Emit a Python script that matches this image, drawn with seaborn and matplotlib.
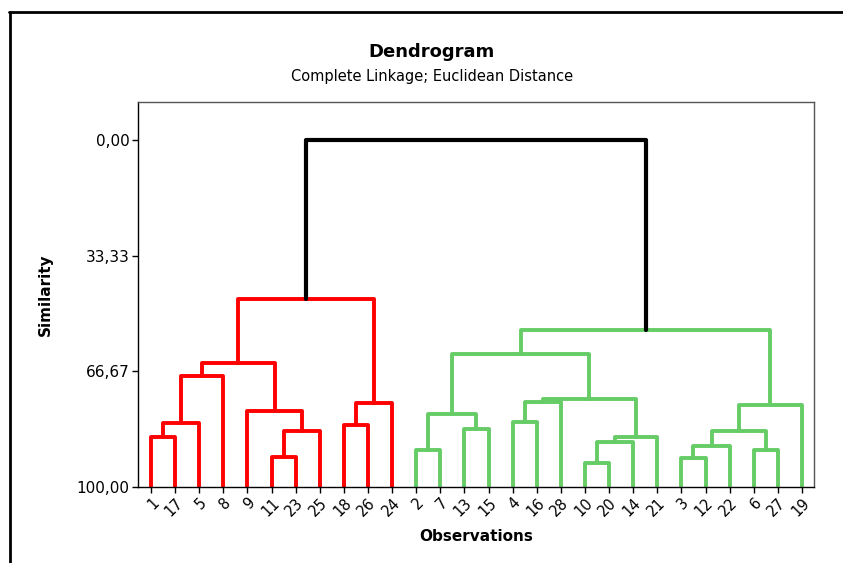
import matplotlib
matplotlib.use("Agg")
import matplotlib.pyplot as plt
from matplotlib.lines import Line2D
import seaborn as sns
import pandas as pd

# ---------------- data ----------------
leaf_order = [1, 17, 5, 8, 9, 11, 23, 25, 18, 26, 24,
              2, 7, 13, 15, 4, 16, 28, 10, 20, 14, 21, 3, 12, 22, 6, 27, 19]
# merges: left child, right child, similarity (ints = observation, "mK" = K-th merge)
merge_left = [1, "m0", "m1", 11, "m3", 9, "m2", 18, "m7", "m6",
              2, 13, "m10", 4, "m13", 10, "m15", "m16", "m14", "m12",
              3, "m20", 6, "m21", "m23", "m19", "m9"]
merge_right = [17, 5, 8, 23, 25, "m4", "m5", 26, 24, "m8",
               7, 15, "m11", 16, 28, 20, 14, 21, "m17", "m18",
               12, 22, 27, "m22", 19, "m24", "m25"]
merge_sim = [85.6, 81.5, 68.0, 91.3, 83.9, 78.0, 64.2, 82.2, 75.9, 45.8,
             89.3, 83.3, 79.0, 81.3, 75.5, 93.1, 87.0, 85.6, 74.6, 61.7,
             91.6, 88.2, 89.3, 83.9, 76.4, 54.8, 0.0]
y_ticks = [0.0, 33.33, 66.67, 100.0]
y_tick_labels = ["0,00", "33,33", "66,67", "100,00"]

# ---------------- geometry from the tree ----------------
pos = {obs: i for i, obs in enumerate(leaf_order)}
node_x, node_y = {}, {}
for obs in leaf_order:
    node_x[obs] = pos[obs]
    node_y[obs] = 100.0
for k, (a, b, s) in enumerate(zip(merge_left, merge_right, merge_sim)):
    node_x[f"m{k}"] = (node_x[a] + node_x[b]) / 2
    node_y[f"m{k}"] = s

root = f"m{len(merge_sim) - 1}"
group = {}
def assign(node, g):
    group[node] = g
    if isinstance(node, str):
        k = int(node[1:])
        assign(merge_left[k], g)
        assign(merge_right[k], g)
group[root] = "root"
rk = int(root[1:])
assign(merge_left[rk], "red")
assign(merge_right[rk], "green")

rows = []
for k, (a, b, s) in enumerate(zip(merge_left, merge_right, merge_sim)):
    name = f"m{k}"
    pts = [(node_x[a], node_y[a]), (node_x[a], s), (node_x[b], s), (node_x[b], node_y[b])]
    for j, (x, y) in enumerate(pts):
        rows.append({"link": name, "order": j, "x": x, "y": y, "grp": group[name]})
df = pd.DataFrame(rows)

# ---------------- plot ----------------
sns.set_theme(style="white")
plt.rcParams["font.family"] = ["DejaVu Sans"]
plt.rcParams["text.color"] = "black"
plt.rcParams["axes.labelcolor"] = "black"
plt.rcParams["xtick.color"] = "black"
plt.rcParams["ytick.color"] = "black"

fig = plt.figure(figsize=(8.43, 5.63), dpi=100)
ax = fig.add_axes([138 / 843, 1 - 487 / 563, 676 / 843, 385 / 563])

palette = {"red": "#FF0000", "green": "#66CC66", "root": "#000000"}
for g, lw in [("red", 2.8), ("green", 2.8), ("root", 3.0)]:
    sub = df[df["grp"] == g]
    sns.lineplot(data=sub, x="x", y="y", units="link", estimator=None, sort=False,
                 color=palette[g], linewidth=lw, ax=ax, legend=False)

ax.set_xlim(-0.54, len(leaf_order) - 0.5)
ax.set_ylim(100, -10.95)
ax.set_yticks(y_ticks)
ax.set_yticklabels(y_tick_labels, fontsize=11)
ax.set_xticks(range(len(leaf_order)))
ax.set_xticklabels([str(o) for o in leaf_order], rotation=45, ha="right",
                   rotation_mode="anchor", fontsize=10.5)
ax.tick_params(axis="both", which="both", direction="out", length=4, width=1,
               color="black", labelcolor="black", left=True, bottom=True, pad=2)
ax.set_xlabel("Observations", fontsize=11, fontweight="bold", labelpad=7, color="black")
ax.set_ylabel("Similarity", fontsize=11, fontweight="bold", labelpad=17, color="black")
for sp in ax.spines.values():
    sp.set_color("black")
    sp.set_linewidth(1.0)
    sp.set_visible(True)
ax.spines["top"].set_color("#555555")
ax.spines["right"].set_color("#555555")
ax.grid(False)

fig.text(432 / 843, 1 - 52 / 563, "Dendrogram", ha="center", va="center",
         fontsize=13, fontweight="bold", color="black")
fig.text(432 / 843, 1 - 77 / 563, "Complete Linkage; Euclidean Distance",
         ha="center", va="center", fontsize=10.5, color="black")

# outer frame (top and left)
fig.add_artist(Line2D([9 / 843, 1.0], [1 - 12 / 563, 1 - 12 / 563],
                      transform=fig.transFigure, color="black", linewidth=2))
fig.add_artist(Line2D([10 / 843, 10 / 843], [1 - 12 / 563, 0.0],
                      transform=fig.transFigure, color="black", linewidth=2))

fig.savefig("out.png", dpi=100, facecolor="white")
